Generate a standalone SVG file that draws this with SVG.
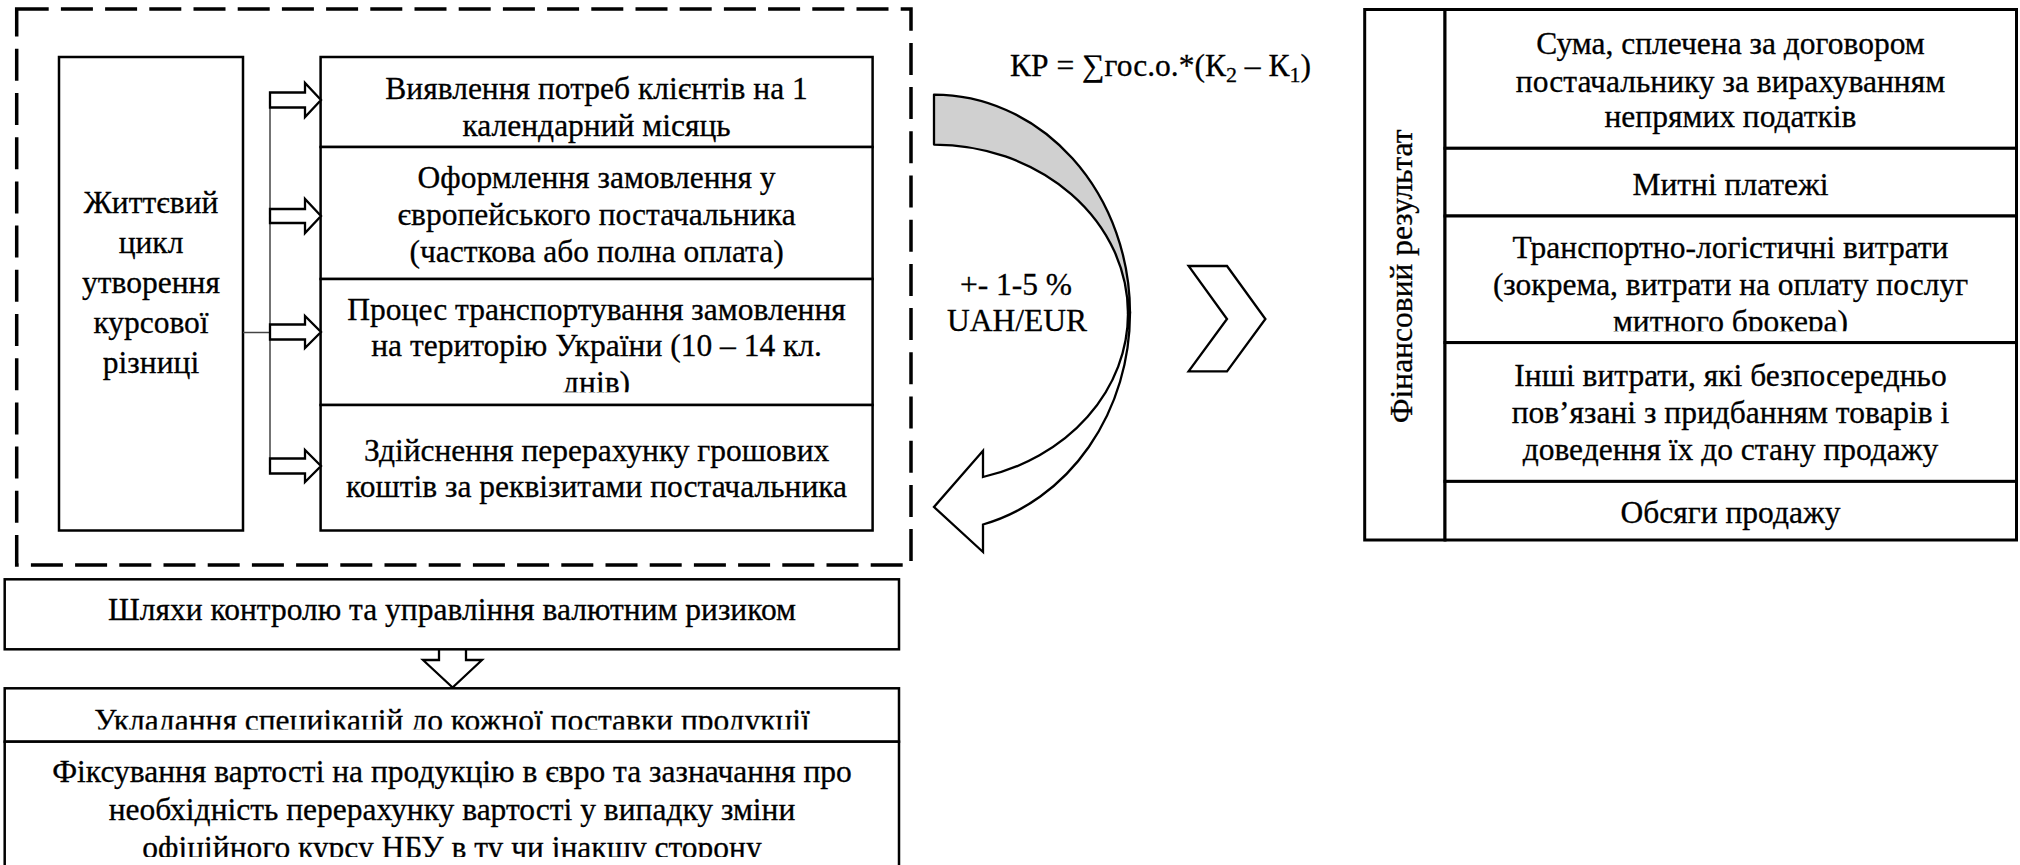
<svg xmlns="http://www.w3.org/2000/svg" width="2020" height="865" viewBox="0 0 2020 865">
<style>
  .t{font-family:"Liberation Serif","Times New Roman",serif;font-size:31.5px;fill:#000;stroke:#000;stroke-width:0.3;text-anchor:middle}
  .box{fill:#fff;stroke:#000;stroke-width:2.5}
  .tbl{fill:#fff;stroke:#000;stroke-width:3}
  .harr{fill:#fff;stroke:#000;stroke-width:2.3;stroke-linejoin:miter}
  .conn{fill:none;stroke:#444;stroke-width:1.5}
</style>
<defs>
  <clipPath id="clipDniv"><rect x="320" y="280" width="553" height="112.3"/></clipPath>
  <clipPath id="clipBroker"><rect x="1445" y="216" width="571" height="115.3"/></clipPath>
  <clipPath id="clipUklad"><rect x="5" y="688" width="894" height="41.4"/></clipPath>
  <clipPath id="clipFix"><rect x="5" y="742" width="894" height="115"/></clipPath>
</defs>
<rect width="2020" height="865" fill="#fff"/>

<g id="frame">
  <rect x="16.7" y="9" width="894.3" height="556" fill="none" stroke="#000" stroke-width="3.5" stroke-dasharray="32 12.2"/>
</g>

<g id="lifecycle">
  <rect class="box" x="59" y="57" width="184" height="473.5"/>
  <text class="t" x="151" y="213">Життєвий</text>
  <text class="t" x="151" y="253">цикл</text>
  <text class="t" x="151" y="293">утворення</text>
  <text class="t" x="151" y="333">курсової</text>
  <text class="t" x="151" y="373">різниці</text>
</g>

<g id="step1">
  <rect class="box" x="320.6" y="57" width="552" height="90"/>
  <text class="t" x="596.6" y="99">Виявлення потреб клієнтів на 1</text>
  <text class="t" x="596.6" y="136.4">календарний місяць</text>
</g>
<g id="step2">
  <rect class="box" x="320.6" y="147" width="552" height="132"/>
  <text class="t" x="596.6" y="188">Оформлення замовлення у</text>
  <text class="t" x="596.6" y="225">європейського постачальника</text>
  <text class="t" x="596.6" y="262">(часткова або полна оплата)</text>
</g>
<g id="step3">
  <rect class="box" x="320.6" y="279" width="552" height="126"/>
  <text class="t" x="596.6" y="320.3">Процес транспортування замовлення</text>
  <text class="t" x="596.6" y="356">на територію України (10 – 14 кл.</text>
  <text class="t" x="596.6" y="392.8" clip-path="url(#clipDniv)">днів)</text>
</g>
<g id="step4">
  <rect class="box" x="320.6" y="405" width="552" height="125.5"/>
  <text class="t" x="596.6" y="461">Здійснення перерахунку грошових</text>
  <text class="t" x="596.6" y="497">коштів за реквізитами постачальника</text>
</g>

<g id="connectors">
  <line class="conn" x1="270" y1="95" x2="270" y2="473"/>
  <line class="conn" x1="243" y1="332.5" x2="270" y2="332.5"/>
  <polygon class="harr" points="270,92.5 305,92.5 305,83 321,100 305,117 305,107.5 270,107.5"/>
  <polygon class="harr" points="270,209 305,209 305,199 321,216 305,233 305,223 270,223"/>
  <polygon class="harr" points="270,324.5 305,324.5 305,316 321,332 305,348 305,339.5 270,339.5"/>
  <polygon class="harr" points="270,458.5 305,458.5 305,450 321,466 305,482 305,473.5 270,473.5"/>
  <path class="harr" d="M439,649.3 V660 H423 L452.6,687.5 L482,660 H466 V649.3"/>
  <polygon class="harr" points="1188.6,266 1227,266 1265.4,319 1227,371.4 1188.6,371.4 1227,319"/>
</g>

<g id="curved-arrow">
  <path d="M934,94.6 A196,218.4 0 0 1 1130,313 L1128,313.5 A194,168.9 0 0 0 934,144.6 Z" fill="#d0d0d0" stroke="#000" stroke-width="2.3" stroke-linejoin="round"/>
  <path d="M1130,313 A196,218.4 0 0 1 983,524.5 L983,552 L934,507 L983,450.7 L983,477 A194,168.9 0 0 0 1128,313.5 Z" fill="#fff" stroke="#000" stroke-width="2.3" stroke-linejoin="miter"/>
  <text class="t" x="1016" y="294.6">+- 1-5 %</text>
  <text class="t" x="1017" y="331.4">UAH/EUR</text>
</g>

<g id="formula">
  <text class="t" x="1010" y="75.7" style="text-anchor:start">КР = ∑гос.о.*(К<tspan font-size="22" dy="6">2</tspan><tspan dy="-6"> – К</tspan><tspan font-size="22" dy="6">1</tspan><tspan dy="-6">)</tspan></text>
</g>

<g id="fin-result">
  <rect class="tbl" x="1364.7" y="9.5" width="80.3" height="530.5"/>
  <text class="t" transform="translate(1412,276.4) rotate(-90)" x="0" y="0">Фінансовий результат</text>
</g>
<g id="row1">
  <rect class="tbl" x="1445" y="9.5" width="571.5" height="138.8"/>
  <text class="t" x="1730.5" y="54.2">Сума, сплечена за договором</text>
  <text class="t" x="1730.5" y="91.9">постачальнику за вирахуванням</text>
  <text class="t" x="1730.5" y="126.6">непрямих податків</text>
</g>
<g id="row2">
  <rect class="tbl" x="1445" y="148.3" width="571.5" height="67.7"/>
  <text class="t" x="1730.5" y="195.1">Митні платежі</text>
</g>
<g id="row3">
  <rect class="tbl" x="1445" y="216" width="571.5" height="126.6"/>
  <text class="t" x="1730.5" y="258">Транспортно-логістичні витрати</text>
  <text class="t" x="1730.5" y="294.9">(зокрема, витрати на оплату послуг</text>
  <text class="t" x="1730.5" y="332" clip-path="url(#clipBroker)">митного брокера)</text>
</g>
<g id="row4">
  <rect class="tbl" x="1445" y="342.6" width="571.5" height="138.8"/>
  <text class="t" x="1730.5" y="386">Інші витрати, які безпосередньо</text>
  <text class="t" x="1730.5" y="422.8">пов’язані з придбанням товарів і</text>
  <text class="t" x="1730.5" y="459.7">доведення їх до стану продажу</text>
</g>
<g id="row5">
  <rect class="tbl" x="1445" y="481.4" width="571.5" height="58.6"/>
  <text class="t" x="1730.5" y="522.6">Обсяги продажу</text>
</g>

<g id="ways">
  <rect class="box" x="4.7" y="579.3" width="894.3" height="70"/>
  <text class="t" x="452" y="620">Шляхи контролю та управління валютним ризиком</text>
</g>
<g id="spec">
  <rect class="box" x="4.7" y="688.3" width="894.3" height="53.4"/>
  <text class="t" x="452" y="730.5" clip-path="url(#clipUklad)">Укладання специікацій до кожної поставки продукції</text>
</g>
<g id="fix">
  <rect class="box" x="4.7" y="741.7" width="894.3" height="140"/>
  <text class="t" x="452" y="782.3">Фіксування вартості на продукцію в євро та зазначання про</text>
  <text class="t" x="452" y="820">необхідність перерахунку вартості у випадку зміни</text>
  <text class="t" x="452" y="858" clip-path="url(#clipFix)">офіційного курсу НБУ в ту чи інакшу сторону</text>
</g>
</svg>
